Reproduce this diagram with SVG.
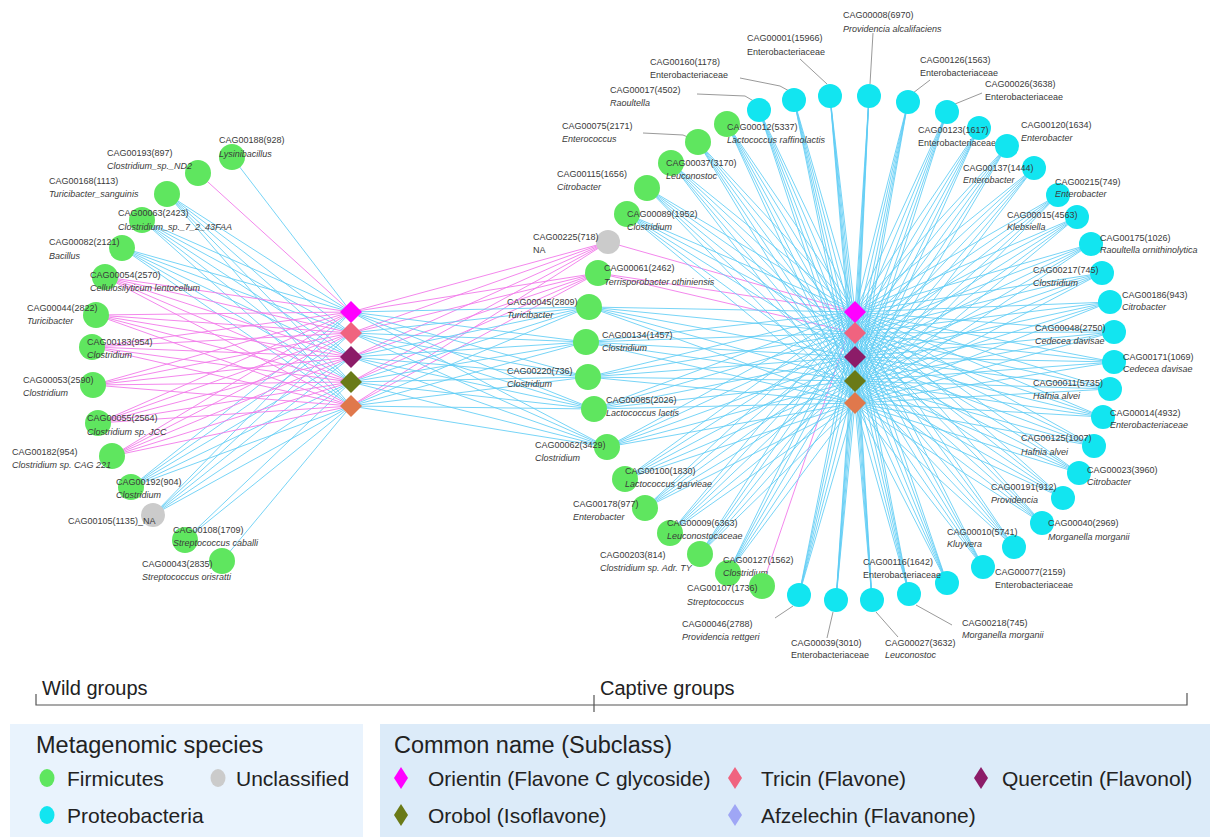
<svg xmlns="http://www.w3.org/2000/svg" width="1224" height="837" viewBox="0 0 1224 837">
<style>
.ec{fill:none;stroke:#5fcdf4;stroke-width:1;opacity:.85}
.em{fill:none;stroke:#f27aea;stroke-width:1;opacity:.9}
.g{fill:#5fe65f}.c{fill:#12e5f0}.u{fill:#cbcbcb}
text{font-family:"Liberation Sans",Arial,sans-serif}
.l{font-size:9px;fill:#3a3a3a}
.i{font-style:italic}
.ld{fill:none;stroke:#9a9a9a;stroke-width:1}
.lg{font-size:21px;fill:#222}
.lh{font-size:23.5px;fill:#222}
.gt{font-size:20px;fill:#222}
</style>
<rect width="1224" height="837" fill="#fff"/>
<g id="connectors">
<path class="ec" d="M232,157L351,312M167,194L351,312M167,194L351,333M167,194L351,357M167,194L351,382M167,194L351,406M142,220L351,312M142,220L351,333M142,220L351,357M142,220L351,382M142,220L351,406M122,248L351,312M122,248L351,333M122,248L351,357M122,248L351,382M122,248L351,406M131,487L351,312M131,487L351,333M131,487L351,357M131,487L351,382M131,487L351,406M153,515L351,312M153,515L351,333M153,515L351,357M153,515L351,382M153,515L351,406M185,540L351,382M185,540L351,406M222,561L351,406"/>
<path class="em" d="M198,173L351,312M105,277L351,312M105,277L351,333M105,277L351,357M105,277L351,382M105,277L351,406M96,315L351,312M96,315L351,333M96,315L351,357M96,315L351,382M96,315L351,406M92,347L351,312M92,347L351,333M92,347L351,357M92,347L351,382M92,347L351,406M93,385L351,312M93,385L351,333M93,385L351,357M93,385L351,382M93,385L351,406M98,423L351,312M98,423L351,333M98,423L351,357M98,423L351,382M98,423L351,406M112,456L351,312M112,456L351,333M112,456L351,357M112,456L351,382M112,456L351,406"/>
<path class="em" d="M608,242L351,312M608,242L351,333M608,242L351,357M608,242L351,382M608,242L351,406M598,273L351,312M598,273L351,333M598,273L351,357M598,273L351,382M598,273L351,406M608,242L855,312M598,273L855,312M598,273L855,333M762,586L855,312"/>
<path class="ec" d="M589,307L351,312M589,307L351,333M589,307L351,357M589,307L351,382M589,307L351,406M586,342L351,312M586,342L351,333M586,342L351,357M586,342L351,382M586,342L351,406M588,377L351,312M588,377L351,333M588,377L351,357M588,377L351,382M588,377L351,406M594,409L351,312M594,409L351,333M594,409L351,357M594,409L351,382M594,409L351,406M607,447L351,312M607,447L351,333M607,447L351,357M607,447L351,382M607,447L351,406"/>
<path class="ec" d="M589,307L855,312M589,307L855,333M589,307L855,357M589,307L855,381M589,307L855,403M586,342L855,312M586,342L855,333M586,342L855,357M586,342L855,381M586,342L855,403M588,377L855,312M588,377L855,333M588,377L855,357M588,377L855,381M588,377L855,403M594,409L855,312M594,409L855,333M594,409L855,357M594,409L855,381M594,409L855,403M607,447L855,312M607,447L855,333M607,447L855,357M607,447L855,381M607,447L855,403"/>
<path class="ec" d="M727,124L855,312M727,124L855,333M727,124L855,357M727,124L855,381M727,124L855,403M698,142L855,312M698,142L855,333M698,142L855,357M698,142L855,381M698,142L855,403M671,163L855,312M671,163L855,333M671,163L855,357M671,163L855,381M671,163L855,403M647,188L855,312M647,188L855,333M647,188L855,357M647,188L855,381M647,188L855,403M627,214L855,312M627,214L855,333M627,214L855,357M627,214L855,381M627,214L855,403M625,479L855,312M625,479L855,333M625,479L855,357M625,479L855,381M625,479L855,403M645,508L855,312M645,508L855,333M645,508L855,357M645,508L855,381M645,508L855,403M670,533L855,312M670,533L855,333M670,533L855,357M670,533L855,381M670,533L855,403M700,554L855,312M700,554L855,333M700,554L855,357M700,554L855,381M700,554L855,403M728,573L855,312M728,573L855,333M728,573L855,357M728,573L855,381M728,573L855,403"/>
<path class="ec" d="M759,110L855,312M759,110L855,333M759,110L855,357M759,110L855,381M759,110L855,403M794,100L855,312M794,100L855,333M794,100L855,357M794,100L855,381M794,100L855,403M830,96L855,312M830,96L855,333M830,96L855,357M830,96L855,381M830,96L855,403M869,96L855,312M869,96L855,333M869,96L855,357M869,96L855,381M869,96L855,403M908,102L855,312M908,102L855,333M908,102L855,357M908,102L855,381M908,102L855,403M947,112L855,312M947,112L855,333M947,112L855,357M947,112L855,381M947,112L855,403M979,128L855,312M979,128L855,333M979,128L855,357M979,128L855,381M979,128L855,403M1007,146L855,312M1007,146L855,333M1007,146L855,357M1007,146L855,381M1007,146L855,403M1034,168L855,312M1034,168L855,333M1034,168L855,357M1034,168L855,381M1034,168L855,403M1058,195L855,312M1058,195L855,333M1058,195L855,357M1058,195L855,381M1058,195L855,403"/>
<path class="ec" d="M1077,217L855,312M1077,217L855,333M1077,217L855,357M1077,217L855,381M1077,217L855,403M1091,244L855,312M1091,244L855,333M1091,244L855,357M1091,244L855,381M1091,244L855,403M1102,273L855,312M1102,273L855,333M1102,273L855,357M1102,273L855,381M1102,273L855,403M1110,302L855,312M1110,302L855,333M1110,302L855,357M1110,302L855,381M1110,302L855,403M1114,332L855,312M1114,332L855,333M1114,332L855,357M1114,332L855,381M1114,332L855,403M1114,362L855,312M1114,362L855,333M1114,362L855,357M1114,362L855,381M1114,362L855,403M1110,389L855,312M1110,389L855,333M1110,389L855,357M1110,389L855,381M1110,389L855,403M1103,417L855,312M1103,417L855,333M1103,417L855,357M1103,417L855,381M1103,417L855,403M1094,446L855,312M1094,446L855,333M1094,446L855,357M1094,446L855,381M1094,446L855,403M1079,473L855,312M1079,473L855,333M1079,473L855,357M1079,473L855,381M1079,473L855,403"/>
<path class="ec" d="M1063,498L855,312M1063,498L855,333M1063,498L855,357M1063,498L855,381M1063,498L855,403M1042,523L855,312M1042,523L855,333M1042,523L855,357M1042,523L855,381M1042,523L855,403M1014,547L855,312M1014,547L855,333M1014,547L855,357M1014,547L855,381M1014,547L855,403M983,567L855,312M983,567L855,333M983,567L855,357M983,567L855,381M983,567L855,403M947,583L855,312M947,583L855,333M947,583L855,357M947,583L855,381M947,583L855,403M909,594L855,312M909,594L855,333M909,594L855,357M909,594L855,381M909,594L855,403M872,600L855,312M872,600L855,333M872,600L855,357M872,600L855,381M872,600L855,403M836,600L855,312M836,600L855,333M836,600L855,357M836,600L855,381M836,600L855,403M799,595L855,312M799,595L855,333M799,595L855,357M799,595L855,381M799,595L855,403"/>
<path class="ld" d="M697,94L745,96L757,103M740,78L780,86L791,92M800,59L827,84M873,33L870,84M930,80L913,93M982,93L955,104M643,133L683,135L690,138M775,618L793,606M827,638L833,612M898,637L876,612M952,625L916,605"/>
</g>
<g id="wild-nodes">
<g id="n188"><circle class="g" cx="232" cy="157" r="13"/><text class="l" x="219" y="143">CAG00188(928)</text><text class="l i" x="219" y="157">Lysinibacillus</text></g>
<g id="n193"><circle class="g" cx="198" cy="173" r="13"/><text class="l" x="107" y="156">CAG00193(897)</text><text class="l i" x="107" y="169">Clostridium_sp._ND2</text></g>
<g id="n168"><circle class="g" cx="167" cy="194" r="13"/><text class="l" x="49" y="184">CAG00168(1113)</text><text class="l i" x="49" y="197">Turicibacter_sanguinis</text></g>
<g id="n063"><circle class="g" cx="142" cy="220" r="13"/><text class="l" x="118" y="216">CAG00063(2423)</text><text class="l i" x="118" y="230">Clostridium_sp._7_2_43FAA</text></g>
<g id="n082"><circle class="g" cx="122" cy="248" r="13"/><text class="l" x="49" y="245">CAG00082(2121)</text><text class="l i" x="49" y="259">Bacillus</text></g>
<g id="n054"><circle class="g" cx="105" cy="277" r="13"/><text class="l" x="90" y="278">CAG00054(2570)</text><text class="l i" x="90" y="291">Cellulosilyticum lentocellum</text></g>
<g id="n044"><circle class="g" cx="96" cy="315" r="13"/><text class="l" x="27" y="311">CAG00044(2822)</text><text class="l i" x="27" y="324">Turicibacter</text></g>
<g id="n183"><circle class="g" cx="92" cy="347" r="13"/><text class="l" x="87" y="345">CAG00183(954)</text><text class="l i" x="87" y="358">Clostridium</text></g>
<g id="n053"><circle class="g" cx="93" cy="385" r="13"/><text class="l" x="23" y="383">CAG00053(2590)</text><text class="l i" x="23" y="396">Clostridium</text></g>
<g id="n055"><circle class="g" cx="98" cy="423" r="13"/><text class="l" x="87" y="421">CAG00055(2564)</text><text class="l i" x="87" y="435">Clostridium sp. JCC</text></g>
<g id="n182"><circle class="g" cx="112" cy="456" r="13"/><text class="l" x="12" y="455">CAG00182(954)</text><text class="l i" x="12" y="468">Clostridium sp. CAG 221</text></g>
<g id="n192"><circle class="g" cx="131" cy="487" r="13"/><text class="l" x="116" y="485">CAG00192(904)</text><text class="l i" x="116" y="498">Clostridium</text></g>
<g id="n105"><circle class="u" cx="153" cy="515" r="12"/><text class="l" x="68" y="524">CAG00105(1135)_NA</text></g>
<g id="n108"><circle class="g" cx="185" cy="540" r="13"/><text class="l" x="173" y="533">CAG00108(1709)</text><text class="l i" x="173" y="546">Streptococcus caballi</text></g>
<g id="n043"><circle class="g" cx="222" cy="561" r="13"/><text class="l" x="142" y="567">CAG00043(2835)</text><text class="l i" x="142" y="580">Streptococcus orisratti</text></g>
</g>
<g id="captive-nodes">
<g id="n225"><circle class="u" cx="608" cy="242" r="12"/><text class="l" x="533" y="240">CAG00225(718)</text><text class="l" x="533" y="253">NA</text></g>
<g id="n061"><circle class="g" cx="598" cy="273" r="13"/><text class="l" x="604" y="271">CAG00061(2462)</text><text class="l i" x="604" y="285">Terrisporobacter othiniensis</text></g>
<g id="n045"><circle class="g" cx="589" cy="307" r="13"/><text class="l" x="507" y="305">CAG00045(2809)</text><text class="l i" x="507" y="318">Turicibacter</text></g>
<g id="n134"><circle class="g" cx="586" cy="342" r="13"/><text class="l" x="602" y="338">CAG00134(1457)</text><text class="l i" x="602" y="351">Clostridium</text></g>
<g id="n220"><circle class="g" cx="588" cy="377" r="13"/><text class="l" x="507" y="374">CAG00220(736)</text><text class="l i" x="507" y="387">Clostridium</text></g>
<g id="n085"><circle class="g" cx="594" cy="409" r="13"/><text class="l" x="606" y="403">CAG00085(2026)</text><text class="l i" x="606" y="416">Lactococcus lactis</text></g>
<g id="n062"><circle class="g" cx="607" cy="447" r="13"/><text class="l" x="535" y="448">CAG00062(3429)</text><text class="l i" x="535" y="461">Clostridium</text></g>
<g id="n100"><circle class="g" cx="625" cy="479" r="13"/><text class="l" x="625" y="474">CAG00100(1830)</text><text class="l i" x="625" y="487">Lactococcus garvieae</text></g>
<g id="n178"><circle class="g" cx="645" cy="508" r="13"/><text class="l" x="573" y="507">CAG00178(977)</text><text class="l i" x="573" y="520">Enterobacter</text></g>
<g id="n009"><circle class="g" cx="670" cy="533" r="13"/><text class="l" x="667" y="526">CAG00009(6363)</text><text class="l i" x="667" y="539">Leuconostocaceae</text></g>
<g id="n203"><circle class="g" cx="700" cy="554" r="13"/><text class="l" x="600" y="558">CAG00203(814)</text><text class="l i" x="600" y="571">Clostridium sp. Adr. TY</text></g>
<g id="n127"><circle class="g" cx="728" cy="573" r="13"/><text class="l" x="723" y="563">CAG00127(1562)</text><text class="l i" x="723" y="576">Clostridium</text></g>
<g id="n107"><circle class="g" cx="762" cy="586" r="13"/><text class="l" x="687" y="591">CAG00107(1736)</text><text class="l i" x="687" y="605">Streptococcus</text></g>
<g id="n089"><circle class="g" cx="627" cy="214" r="13"/><text class="l" x="627" y="217">CAG00089(1952)</text><text class="l i" x="627" y="230">Clostridium</text></g>
<g id="n115"><circle class="g" cx="647" cy="188" r="13"/><text class="l" x="557" y="177">CAG00115(1656)</text><text class="l i" x="557" y="190">Citrobacter</text></g>
<g id="n037"><circle class="g" cx="671" cy="163" r="13"/><text class="l" x="666" y="166">CAG00037(3170)</text><text class="l i" x="666" y="179">Leuconostoc</text></g>
<g id="n075"><circle class="g" cx="698" cy="142" r="13"/><text class="l" x="562" y="129">CAG00075(2171)</text><text class="l i" x="562" y="142">Enterococcus</text></g>
<g id="n012"><circle class="g" cx="727" cy="124" r="13"/><text class="l" x="727" y="130">CAG00012(5337)</text><text class="l i" x="727" y="143">Lactococcus raffinolactis</text></g>
<g id="n017"><circle class="c" cx="759" cy="110" r="12"/><text class="l" x="610" y="93">CAG00017(4502)</text><text class="l i" x="610" y="106">Raoultella</text></g>
<g id="n160"><circle class="c" cx="794" cy="100" r="12"/><text class="l" x="650" y="65">CAG00160(1178)</text><text class="l" x="650" y="78">Enterobacteriaceae</text></g>
<g id="n001"><circle class="c" cx="830" cy="96" r="12"/><text class="l" x="747" y="41">CAG00001(15966)</text><text class="l" x="747" y="55">Enterobacteriaceae</text></g>
<g id="n008"><circle class="c" cx="869" cy="96" r="12"/><text class="l" x="843" y="18">CAG00008(6970)</text><text class="l i" x="843" y="32">Providencia alcalifaciens</text></g>
<g id="n126"><circle class="c" cx="908" cy="102" r="12"/><text class="l" x="920" y="63">CAG00126(1563)</text><text class="l" x="920" y="76">Enterobacteriaceae</text></g>
<g id="n026"><circle class="c" cx="947" cy="112" r="12"/><text class="l" x="985" y="87">CAG00026(3638)</text><text class="l" x="985" y="100">Enterobacteriaceae</text></g>
<g id="n123"><circle class="c" cx="979" cy="128" r="12"/><text class="l" x="918" y="133" fill="#111">CAG00123(1617)</text><text class="l" x="918" y="146" fill="#111">Enterobacteriaceae</text></g>
<g id="n120"><circle class="c" cx="1007" cy="146" r="12"/><text class="l" x="1021" y="128">CAG00120(1634)</text><text class="l i" x="1021" y="141">Enterobacter</text></g>
<g id="n137"><circle class="c" cx="1034" cy="168" r="12"/><text class="l" x="963" y="171">CAG00137(1444)</text><text class="l i" x="963" y="183">Enterobacter</text></g>
<g id="n215"><circle class="c" cx="1058" cy="195" r="12"/><text class="l" x="1055" y="185">CAG00215(749)</text><text class="l i" x="1055" y="197">Enterobacter</text></g>
<g id="n015"><circle class="c" cx="1077" cy="217" r="12"/><text class="l" x="1007" y="218">CAG00015(4563)</text><text class="l i" x="1007" y="230">Klebsiella</text></g>
<g id="n175"><circle class="c" cx="1091" cy="244" r="12"/><text class="l" x="1100" y="241">CAG00175(1026)</text><text class="l i" x="1100" y="253">Raoultella ornithinolytica</text></g>
<g id="n217"><circle class="c" cx="1102" cy="273" r="12"/><text class="l" x="1033" y="273">CAG00217(745)</text><text class="l i" x="1033" y="286">Clostridium</text></g>
<g id="n186"><circle class="c" cx="1110" cy="302" r="12"/><text class="l" x="1122" y="298">CAG00186(943)</text><text class="l i" x="1122" y="310">Citrobacter</text></g>
<g id="n048"><circle class="c" cx="1114" cy="332" r="12"/><text class="l" x="1035" y="331">CAG00048(2750)</text><text class="l i" x="1035" y="344">Cedecea davisae</text></g>
<g id="n171"><circle class="c" cx="1114" cy="362" r="12"/><text class="l" x="1123" y="360">CAG00171(1069)</text><text class="l i" x="1123" y="372">Cedecea davisae</text></g>
<g id="n011"><circle class="c" cx="1110" cy="389" r="12"/><text class="l" x="1033" y="386">CAG00011(5735)</text><text class="l i" x="1033" y="399">Hafnia alvei</text></g>
<g id="n014"><circle class="c" cx="1103" cy="417" r="12"/><text class="l" x="1110" y="416">CAG00014(4932)</text><text class="l i" x="1110" y="428">Enterobacteriaceae</text></g>
<g id="n125"><circle class="c" cx="1094" cy="446" r="12"/><text class="l" x="1021" y="441">CAG00125(1007)</text><text class="l i" x="1021" y="455">Hafnia alvei</text></g>
<g id="n023"><circle class="c" cx="1079" cy="473" r="12"/><text class="l" x="1087" y="473">CAG00023(3960)</text><text class="l i" x="1087" y="485">Citrobacter</text></g>
<g id="n191"><circle class="c" cx="1063" cy="498" r="12"/><text class="l" x="991" y="490">CAG00191(912)</text><text class="l i" x="991" y="503">Providencia</text></g>
<g id="n040"><circle class="c" cx="1042" cy="523" r="12"/><text class="l" x="1048" y="526">CAG00040(2969)</text><text class="l i" x="1048" y="540">Morganella morganii</text></g>
<g id="n010"><circle class="c" cx="1014" cy="547" r="12"/><text class="l" x="947" y="535">CAG00010(5741)</text><text class="l i" x="947" y="547">Kluyvera</text></g>
<g id="n077"><circle class="c" cx="983" cy="567" r="12"/><text class="l" x="995" y="575">CAG00077(2159)</text><text class="l" x="995" y="588">Enterobacteriaceae</text></g>
<g id="n116"><circle class="c" cx="947" cy="583" r="12"/><text class="l" x="863" y="565">CAG00116(1642)</text><text class="l" x="863" y="578">Enterobacteriaceae</text></g>
<g id="n218"><circle class="c" cx="909" cy="594" r="12"/><text class="l" x="962" y="626">CAG00218(745)</text><text class="l i" x="962" y="638">Morganella morganii</text></g>
<g id="n027"><circle class="c" cx="872" cy="600" r="12"/><text class="l" x="885" y="646">CAG00027(3632)</text><text class="l i" x="885" y="658">Leuconostoc</text></g>
<g id="n039"><circle class="c" cx="836" cy="600" r="12"/><text class="l" x="791" y="646">CAG00039(3010)</text><text class="l" x="791" y="658">Enterobacteriaceae</text></g>
<g id="n046"><circle class="c" cx="799" cy="595" r="12"/><text class="l" x="682" y="627">CAG00046(2788)</text><text class="l i" x="682" y="640">Providencia rettgeri</text></g>
</g>
<g id="compounds-wild">
<path id="wL0" fill="#ff00ff" d="M351,301L362,312L351,323L340,312Z"/>
<path id="wL1" fill="#f0637f" d="M351,322L362,333L351,344L340,333Z"/>
<path id="wL2" fill="#8c1c68" d="M351,346L362,357L351,368L340,357Z"/>
<path id="wL3" fill="#6a7a17" d="M351,371L362,382L351,393L340,382Z"/>
<path id="wL4" fill="#e0784c" d="M351,395L362,406L351,417L340,406Z"/>
</g>
<g id="compounds-captive">
<path id="cR0" fill="#ff00ff" d="M855,301L866,312L855,323L844,312Z"/>
<path id="cR1" fill="#f0637f" d="M855,322L866,333L855,344L844,333Z"/>
<path id="cR2" fill="#8c1c68" d="M855,346L866,357L855,368L844,357Z"/>
<path id="cR3" fill="#6a7a17" d="M855,370L866,381L855,392L844,381Z"/>
<path id="cR4" fill="#e0784c" d="M855,392L866,403L855,414L844,403Z"/>
</g>
<g id="groups" stroke="#555" stroke-width="1.2" fill="none">
<path d="M36,694V705H1187V693M594,695V712"/>
</g>
<text class="gt" x="42" y="695">Wild groups</text>
<text class="gt" x="600" y="695">Captive groups</text>
<g id="legend-species">
<rect x="10" y="724" width="353" height="113" fill="#e9f3fd"/>
<text class="lh" x="36" y="753">Metagenomic species</text>
<ellipse cx="47" cy="778" rx="7.5" ry="9" fill="#5fe65f"/><text class="lg" x="67" y="786">Firmicutes</text>
<ellipse cx="218" cy="778" rx="7.5" ry="9" fill="#cbcbcb"/><text class="lg" x="236" y="786">Unclassified</text>
<ellipse cx="47" cy="815" rx="7.5" ry="9" fill="#12e5f0"/><text class="lg" x="67" y="823">Proteobacteria</text>
</g>
<g id="legend-compounds">
<rect x="380" y="724" width="830" height="113" fill="#dcebf9"/>
<text class="lh" x="394" y="753">Common name (Subclass)</text>
<path fill="#ff00ff" d="M401,767L408,778L401,789L394,778Z"/><text class="lg" x="428" y="786">Orientin (Flavone C glycoside)</text>
<path fill="#f0637f" d="M735,767L742,778L735,789L728,778Z"/><text class="lg" x="761" y="786">Tricin (Flavone)</text>
<path fill="#8c1c68" d="M981,767L988,778L981,789L974,778Z"/><text class="lg" x="1002" y="786">Quercetin (Flavonol)</text>
<path fill="#6a7a17" d="M401,804L408,815L401,826L394,815Z"/><text class="lg" x="428" y="823">Orobol (Isoflavone)</text>
<path fill="#9fa6f5" d="M735,804L742,815L735,826L728,815Z"/><text class="lg" x="761" y="823">Afzelechin (Flavanone)</text>
</g>
</svg>
